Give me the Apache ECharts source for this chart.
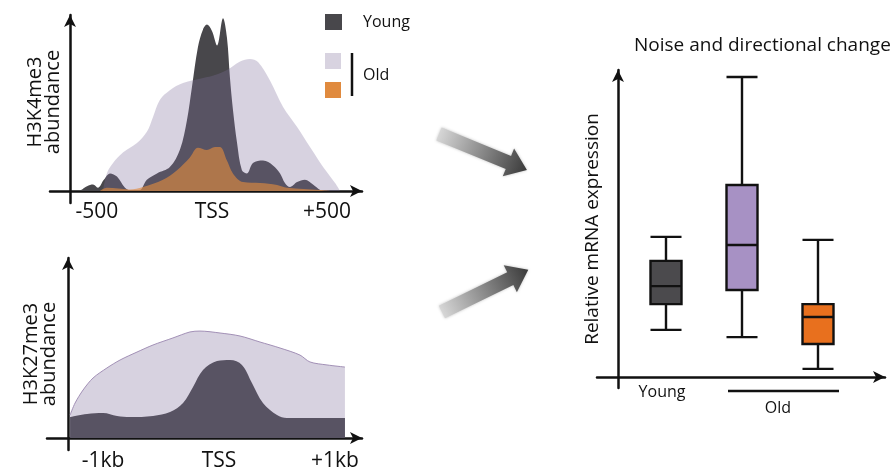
<!DOCTYPE html>
<html>
<head>
<meta charset="utf-8">
<title>Histone marks and mRNA noise with age</title>
<script src="https://cdn.jsdelivr.net/npm/echarts@6/dist/echarts.min.js"></script>
<style>
html, body { margin: 0; padding: 0; background: #fff; }
#main { width: 896px; height: 473px; }
</style>
</head>
<body>
<div id="main"></div>
<script>
// H3K4me3 around the TSS (x in bp, y arbitrary abundance)
var k4Young = [[-574,0],[-543,3],[-517,4],[-496,2],[-470,7],[-443,11],[-413,9],[-378,2],[-348,0],[-313,0.5],
  [-283,7],[-239,11],[-183,15],[-139,26],[-109,44],[-87,65],[-61,90],[-39,101],[-22,104],[0,100],[22,91],
  [48,108],[65,96],[78,71],[91,51],[109,30],[130,13],[152,11],[178,17.5],[222,19],[265,16],[296,11],
  [317,5],[339,2.5],[370,5.6],[404,7],[439,4],[470,0.6],[491,0]];
var k4Old = [[-474,0],[-457,11],[-430,17.5],[-387,24],[-326,30],[-283,37],[-257,46],[-226,57],[-183,63],
  [-126,67.5],[-39,70.6],[13,72.5],[65,75.6],[122,81],[165,82.5],[200,80.6],[252,69],[309,52.5],
  [370,40],[426,27.5],[483,15],[535,5],[557,0]];
var k4OldOrange = [[-487,0],[-457,2],[-357,1],[-300,2.5],[-213,7],[-152,13],[-96,21],[-61,27],[-22,25.6],
  [13,27.5],[35,27.5],[65,19],[91,11],[135,5.6],[209,5],[283,3.8],[326,2],[470,0.6],[513,0]];
var k4Ticks = [-500, 0, 500];
var k4TickNames = ['-500', 'TSS', '+500'];

// H3K27me3 around the TSS
var k27Young = [[-1284,14],[-1138,16],[-1000,16.7],[-879,14.7],[-767,14],[-569,14.7],[-422,17.3],[-310,23.3],
  [-224,34],[-138,45.3],[-17,51.3],[95,52],[198,48.7],[284,36.7],[379,23.3],[500,15.3],[586,13.3],[1086,13.3]];
var k27Old = [[-1284,15.3],[-1241,23.3],[-1172,32],[-1086,40],[-966,46.7],[-853,52],[-707,57.3],[-569,62],
  [-397,66.7],[-250,70.7],[-164,71.3],[9,70],[181,68],[353,64],[526,60],[698,55.3],[784,50.7],[931,48.7],[1086,47.3]];
var k27Ticks = [-1000, 0, 1000];
var k27TickNames = ['-1kb', 'TSS', '+1kb'];

// relative mRNA expression: [min, Q1, median, Q3, max]
var boxGroups = ['Young', 'Old noise', 'Old shift'];
var boxStats = [
  [15.7, 24.3, 30.3, 38.7, 46.7],
  [13.3, 29, 44, 64, 100],
  [2.7, 11, 20, 24.3, 45.7]
];
var boxColors = ['#4b4a4d', '#a791c4', '#e8701e'];

var FONT = 'Open Sans';
var INK = '#111';

function arrowLine() {
  return { show: true, onZero: false, symbol: ['none', 'arrow'], symbolSize: [9, 12],
    lineStyle: { color: INK, width: 2.5 } };
}
function tickFormatter(ticks, names) {
  return function (v) {
    var i = ticks.indexOf(Math.round(v));
    return i >= 0 ? names[i] : '';
  };
}

function arrowGraphic(x, y, len, rot) {
  return {
    type: 'polygon', x: x, y: y, rotation: rot,
    shape: { points: [[0,-7],[len-20,-7],[len-20,-15],[len,0],[len-20,15],[len-20,7],[0,7]] },
    style: {
      fill: new echarts.graphic.LinearGradient(0, 0, 1, 0, [
        { offset: 0, color: '#d6d6d6' }, { offset: 1, color: '#3a3a3a' }]),
      shadowBlur: 3, shadowColor: 'rgba(0,0,0,0.25)'
    }
  };
}

var chart = echarts.init(document.getElementById('main'));

var option = {
  animation: false,
  backgroundColor: '#fff',
  title: {
    text: 'Noise and directional change', left: 629, top: 31,
    textStyle: { fontFamily: FONT, fontSize: 19, fontWeight: 'normal', color: INK }
  },
  grid: [
    { left: 50, top: 15, width: 312, height: 188, outerBoundsMode: 'none' },
    { left: 47, top: 258, width: 315, height: 192, outerBoundsMode: 'none' },
    { left: 597, top: 70, width: 288, height: 318, outerBoundsMode: 'none' },
    { left: 628, top: 70, width: 228, height: 318, outerBoundsMode: 'none' }
  ],
  xAxis: [
    { gridIndex: 0, type: 'value', min: -704, max: 652,
      axisLine: { show: true, onZero: true, symbol: ['none', 'arrow'], symbolSize: [9, 12], lineStyle: { color: INK, width: 2.5 } },
      axisTick: { show: false }, splitLine: { show: false },
      axisLabel: { customValues: k4Ticks, formatter: tickFormatter(k4Ticks, k4TickNames),
        margin: -1, fontFamily: FONT, fontSize: 21, color: INK } },
    { gridIndex: 1, type: 'value', min: -1483, max: 1233,
      axisLine: { show: true, onZero: true, symbol: ['none', 'arrow'], symbolSize: [9, 12], lineStyle: { color: INK, width: 2.5 } },
      axisTick: { show: false }, splitLine: { show: false },
      axisLabel: { customValues: k27Ticks, formatter: tickFormatter(k27Ticks, k27TickNames),
        margin: 1, fontFamily: FONT, fontSize: 21, color: INK } },
    { gridIndex: 2, type: 'value', min: 0, max: 1,
      axisLine: { show: true, onZero: true, symbol: ['none', 'arrow'], symbolSize: [9, 12], lineStyle: { color: INK, width: 2.5 } },
      axisTick: { show: false }, splitLine: { show: false }, axisLabel: { show: false } },
    { gridIndex: 3, type: 'category', data: boxGroups,
      axisLine: { show: false }, axisTick: { show: false }, splitLine: { show: false },
      axisLabel: { margin: -4, fontFamily: FONT, fontSize: 16, color: INK, padding: [0, 8, 0, 0],
        formatter: function (v, i) { return i === 0 ? v : ''; } } }
  ],
  yAxis: [
    { gridIndex: 0, type: 'value', min: -7.5, max: 110, offset: -20,
      axisLine: arrowLine(), axisTick: { show: false }, axisLabel: { show: false }, splitLine: { show: false },
      name: 'H3K4me3\nabundance', nameLocation: 'middle', nameRotate: 90, nameGap: 8,
      nameTextStyle: { fontFamily: FONT, fontSize: 20, lineHeight: 18, color: INK, padding: [0, 0, 0, 14] } },
    { gridIndex: 1, type: 'value', min: -8, max: 120, offset: -21,
      axisLine: arrowLine(), axisTick: { show: false }, axisLabel: { show: false }, splitLine: { show: false },
      name: 'H3K27me3\nabundance', nameLocation: 'middle', nameRotate: 90, nameGap: 10,
      nameTextStyle: { fontFamily: FONT, fontSize: 20, lineHeight: 18, color: INK } },
    { gridIndex: 2, type: 'value', min: -3.667, max: 102.333, offset: -21,
      axisLine: arrowLine(), axisTick: { show: false }, axisLabel: { show: false }, splitLine: { show: false },
      name: 'Relative mRNA expression', nameLocation: 'middle', nameRotate: 90, nameGap: 16,
      nameTextStyle: { fontFamily: FONT, fontSize: 19, color: INK } },
    { gridIndex: 3, type: 'value', min: -3.667, max: 102.333, show: false }
  ],
  series: [
    { name: 'Young', type: 'line', xAxisIndex: 0, yAxisIndex: 0, data: k4Young,
      smooth: 0.35, symbol: 'none', lineStyle: { width: 0 }, areaStyle: { color: '#48474b', opacity: 1 } },
    { name: 'Old', type: 'line', xAxisIndex: 0, yAxisIndex: 0, data: k4Old,
      smooth: 0.35, symbol: 'none', lineStyle: { width: 0 }, areaStyle: { color: 'rgba(127,111,154,0.31)', opacity: 1 } },
    { name: 'Old (orange)', type: 'line', xAxisIndex: 0, yAxisIndex: 0, data: k4OldOrange,
      smooth: 0.35, symbol: 'none', lineStyle: { width: 0 }, areaStyle: { color: 'rgba(224,138,62,0.64)', opacity: 1 } },
    { name: 'Young K27', type: 'line', xAxisIndex: 1, yAxisIndex: 1, data: k27Young,
      smooth: 0.35, symbol: 'none', lineStyle: { width: 0 }, areaStyle: { color: '#48474b', opacity: 1 } },
    { name: 'Old K27', type: 'line', xAxisIndex: 1, yAxisIndex: 1, data: k27Old,
      smooth: 0.3, symbol: 'none', lineStyle: { width: 1, color: '#a290b6' },
      areaStyle: { color: 'rgba(127,111,154,0.31)', opacity: 1 } },
    { name: 'Expression', type: 'boxplot', xAxisIndex: 3, yAxisIndex: 3, boxWidth: [31, 31],
      itemStyle: { borderColor: INK, borderWidth: 2.4 },
      data: boxStats.map(function (s, i) {
        return { value: s, itemStyle: { color: boxColors[i] } };
      }) }
  ],
  graphic: [
    // legend of the top profile
    { type: 'rect', shape: { x: 325, y: 14, width: 17, height: 16 }, style: { fill: '#48474b' } },
    { type: 'text', x: 363, y: 22, style: { text: 'Young', fontFamily: FONT, fontSize: 16, fill: INK, verticalAlign: 'middle' } },
    { type: 'rect', shape: { x: 325, y: 53, width: 16, height: 16 }, style: { fill: '#d8d3e0' } },
    { type: 'rect', shape: { x: 325, y: 82, width: 16, height: 16 }, style: { fill: '#e08a3e' } },
    { type: 'line', shape: { x1: 352, y1: 53, x2: 352, y2: 96 }, style: { stroke: INK, lineWidth: 2.5 } },
    { type: 'text', x: 363, y: 75, style: { text: 'Old', fontFamily: FONT, fontSize: 16, fill: INK, verticalAlign: 'middle' } },
    // group bracket under the boxplot
    { type: 'line', shape: { x1: 728, y1: 391, x2: 839, y2: 391 }, style: { stroke: INK, lineWidth: 2.5 } },
    { type: 'text', x: 778, y: 408, style: { text: 'Old', fontFamily: FONT, fontSize: 16, fill: INK, align: 'center', verticalAlign: 'middle' } },
    // arrows linking the panels
    arrowGraphic(439, 134, 95, -Math.atan2(36, 88)),
    arrowGraphic(442, 312, 96, Math.atan2(42, 86))
  ]
};

chart.setOption(option);
</script>
</body>
</html>
